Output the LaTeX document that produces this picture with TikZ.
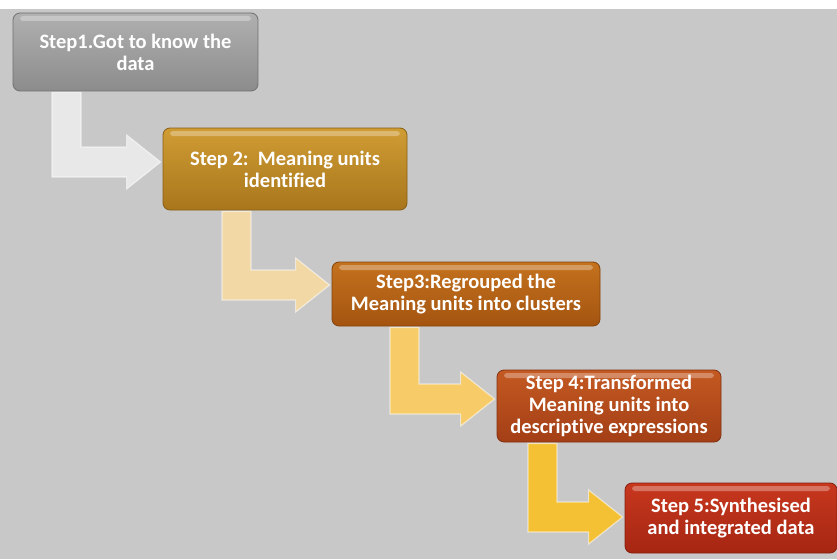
\documentclass[tikz,border=0pt]{standalone}
\usepackage{fontspec}
\setmainfont{Carlito}[Ligatures={NoCommon}]
\usetikzlibrary{calc}
\definecolor{bg}{HTML}{C8C8C8}
\definecolor{aA}{HTML}{E8E8E8}
\definecolor{aB}{HTML}{F2D8A4}
\definecolor{aC}{HTML}{F6CB68}
\definecolor{aD}{HTML}{F4C034}
\definecolor{t1}{HTML}{B0B0B0}\definecolor{b1}{HTML}{8C8C8C}
\definecolor{t2}{HTML}{CF9C34}\definecolor{b2}{HTML}{A9761C}
\definecolor{t3}{HTML}{C4721E}\definecolor{b3}{HTML}{A45410}
\definecolor{t4}{HTML}{C45A22}\definecolor{b4}{HTML}{A33E16}
\definecolor{t5}{HTML}{C8381E}\definecolor{b5}{HTML}{A52612}
\tikzset{
  stepbox/.style 2 args={rounded corners=7pt, inner sep=0pt, align=center,
    font=\bfseries\fontsize{20.5}{22}\selectfont, text=white,
    top color=#1, bottom color=#2, draw=#2!80!black, line width=0.8pt,
    path picture={\fill[white,opacity=.3,rounded corners=3pt]
      ($(path picture bounding box.north west)+(7,3)$) rectangle
      ($(path picture bounding box.north east)+(-7,8)$);}},
  arrowfill/.style={fill=#1, draw=white, draw opacity=.55, line width=1.2pt, line join=miter}
}
\newcommand\bentarrow[5]{% from, to, bar left x, tip shift up, colour
  \filldraw[arrowfill=#5] let \p1=(#1.south), \p2=(#2.west) in
    ({#3pt}, {\y1-1pt}) -- ({#3pt+29pt}, {\y1-1pt})
    -- ({#3pt+29pt}, {\y2+#4pt+15pt}) -- ({\x2-36pt}, {\y2+#4pt+15pt})
    -- ({\x2-36pt}, {\y2+#4pt+27pt}) -- ({\x2-2pt}, {\y2+#4pt})
    -- ({\x2-36pt}, {\y2+#4pt-27pt}) -- ({\x2-36pt}, {\y2+#4pt-15pt})
    -- ({#3pt}, {\y2+#4pt-15pt}) -- cycle;
}
\begin{document}
\begin{tikzpicture}[x=1pt,y=-1pt]
\useasboundingbox (0,0) rectangle (837,559);
\fill[white] (0,0) rectangle (837,559);
\fill[bg] (0,9) rectangle (837,559);

\node[stepbox={t1}{b1}, minimum width=245pt, minimum height=78pt] (s1) at (135.5,52) {Step1.Got to know the\\data};
\node[stepbox={t2}{b2}, minimum width=244pt, minimum height=82pt] (s2) at (285,169) {Step 2:\ \ Meaning units\\identified};
\node[stepbox={t3}{b3}, minimum width=268pt, minimum height=64pt] (s3) at (466,294) {Step3:Regrouped the\\Meaning units into clusters};
\node[stepbox={t4}{b4}, minimum width=224pt, minimum height=72pt] (s4) at (609,406) {Step 4:Transformed\\Meaning units into\\descriptive expressions};
\node[stepbox={t5}{b5}, minimum width=212pt, minimum height=70pt] (s5) at (731,518) {Step 5:Synthesised\\and integrated data};

\bentarrow{s1}{s2}{52}{7}{aA}
\bentarrow{s2}{s3}{222}{9}{aB}
\bentarrow{s3}{s4}{390}{7}{aC}
\bentarrow{s4}{s5}{528}{1}{aD}
\end{tikzpicture}
\end{document}
